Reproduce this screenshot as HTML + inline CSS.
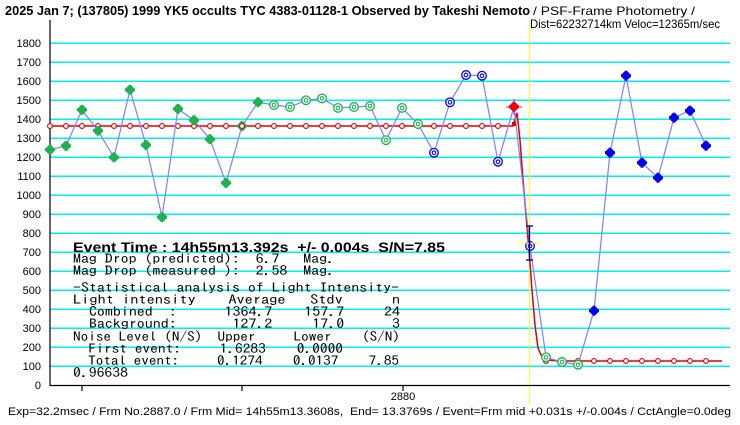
<!DOCTYPE html>
<html><head><meta charset="utf-8"><style>
html,body{margin:0;padding:0;background:#fff;}
svg{display:block;}
.t text{font-family:"IPAGothic","Liberation Mono",monospace;white-space:pre;}
</style></head><body>
<svg width="740" height="425" xmlns="http://www.w3.org/2000/svg">
<defs>
<g id="gf"><rect x="-5" y="-1.5" width="10" height="3" fill="#20b050"/><rect x="-1.5" y="-5" width="3" height="10" fill="#20b050"/><circle r="4.2" fill="#20b050"/></g>
<g id="bf"><rect x="-5" y="-1.5" width="10" height="3" fill="#0000f0"/><rect x="-1.5" y="-5" width="3" height="10" fill="#0000f0"/><circle r="4.2" fill="#0000f0"/></g>
<g id="gr"><circle r="4.3" fill="#fff" stroke="#20b050" stroke-width="1.3"/><circle r="1.8" fill="none" stroke="#20b050" stroke-width="1.1"/></g>
<g id="br"><circle r="4.3" fill="#fff" stroke="#0000f0" stroke-width="1.3"/><circle r="1.8" fill="none" stroke="#0000f0" stroke-width="1.1"/></g>
<circle id="rp" r="2.4" fill="#fff" stroke="#e00000" stroke-width="1.1"/>
</defs>
<rect width="740" height="425" fill="#fff"/>
<g stroke="#00f0f0" stroke-width="1.5">
<line x1="50" x2="730" y1="43.3" y2="43.3"/><line x1="50" x2="730" y1="62.3" y2="62.3"/><line x1="50" x2="730" y1="81.3" y2="81.3"/><line x1="50" x2="730" y1="100.3" y2="100.3"/><line x1="50" x2="730" y1="119.3" y2="119.3"/><line x1="50" x2="730" y1="138.3" y2="138.3"/><line x1="50" x2="730" y1="157.3" y2="157.3"/><line x1="50" x2="730" y1="176.3" y2="176.3"/><line x1="50" x2="730" y1="195.3" y2="195.3"/><line x1="50" x2="730" y1="214.3" y2="214.3"/><line x1="50" x2="730" y1="233.3" y2="233.3"/><line x1="50" x2="730" y1="252.3" y2="252.3"/><line x1="50" x2="730" y1="271.3" y2="271.3"/><line x1="50" x2="730" y1="290.3" y2="290.3"/><line x1="50" x2="730" y1="309.3" y2="309.3"/><line x1="50" x2="730" y1="328.3" y2="328.3"/><line x1="50" x2="730" y1="347.3" y2="347.3"/><line x1="50" x2="730" y1="366.3" y2="366.3"/>
</g>
<line x1="529.5" x2="529.5" y1="20" y2="405" stroke="#ffff40" stroke-width="1"/>
<g font-family="Liberation Sans, sans-serif" font-size="11" text-anchor="end" fill="#000">
<text x="41" y="47">1800</text><text x="41" y="66">1700</text><text x="41" y="85">1600</text><text x="41" y="104">1500</text><text x="41" y="123">1400</text><text x="41" y="142">1300</text><text x="41" y="161">1200</text><text x="41" y="180">1100</text><text x="41" y="199">1000</text><text x="41" y="218">900</text><text x="41" y="237">800</text><text x="41" y="256">700</text><text x="41" y="275">600</text><text x="41" y="294">500</text><text x="41" y="313">400</text><text x="41" y="332">300</text><text x="41" y="351">200</text><text x="41" y="370">100</text><text x="41" y="389">0</text>
</g>
<g stroke="#000" stroke-width="1.2">
<line x1="50" x2="50" y1="20" y2="386"/><line x1="50" x2="730" y1="385.5" y2="385.5"/>
<line x1="82" x2="82" y1="385" y2="391"/><line x1="242" x2="242" y1="385" y2="391"/><line x1="403" x2="403" y1="385" y2="391"/>
</g>
<text x="403" y="400" font-family="Liberation Sans, sans-serif" font-size="11" text-anchor="middle">2880</text>
<polyline fill="none" stroke="#e00000" stroke-width="1.5" points="50,126 513,126 517,113 520,140 523,180 526,215 529,250 532,290 535,325 538,348 542,357 546,360 560,361 722,361"/>
<g>
<use href="#rp" x="50" y="126"/><use href="#rp" x="66" y="126"/><use href="#rp" x="82" y="126"/><use href="#rp" x="98" y="126"/><use href="#rp" x="114" y="126"/><use href="#rp" x="130" y="126"/><use href="#rp" x="146" y="126"/><use href="#rp" x="162" y="126"/><use href="#rp" x="178" y="126"/><use href="#rp" x="194" y="126"/><use href="#rp" x="210" y="126"/><use href="#rp" x="226" y="126"/><use href="#rp" x="258" y="126"/><use href="#rp" x="274" y="126"/><use href="#rp" x="290" y="126"/><use href="#rp" x="306" y="126"/><use href="#rp" x="322" y="126"/><use href="#rp" x="338" y="126"/><use href="#rp" x="354" y="126"/><use href="#rp" x="370" y="126"/><use href="#rp" x="386" y="126"/><use href="#rp" x="402" y="126"/><use href="#rp" x="418" y="126"/><use href="#rp" x="434" y="126"/><use href="#rp" x="450" y="126"/><use href="#rp" x="466" y="126"/><use href="#rp" x="482" y="126"/><use href="#rp" x="498" y="126"/>
<use href="#rp" x="546" y="361"/><use href="#rp" x="562" y="361"/><use href="#rp" x="578" y="361"/><use href="#rp" x="594" y="361"/><use href="#rp" x="610" y="361"/><use href="#rp" x="626" y="361"/><use href="#rp" x="642" y="361"/><use href="#rp" x="658" y="361"/><use href="#rp" x="674" y="361"/><use href="#rp" x="690" y="361"/><use href="#rp" x="706" y="361"/>
</g>
<polyline fill="none" stroke="#8080ff" stroke-width="1.2" points="50,149.7 66,145.9 82,109.8 98,130.7 114,157.3 130,89.8 146,145 162,217.1 178,108.9 194,120.2 210,139.2 226,182.9 242,126 258,102.2 274,105 290,107 306,100.3 322,98.4 338,107.9 354,107 370,106 386,140.2 402,107.9 418,124 434,152.7 450,102.3 466,75 482,75.7 498,161.7 514,106.7 530,246 546,357.3 562,362 578,364.7 594,310.7 610,152.7 626,75.7 642,162.7 658,177.7 674,117.7 690,110.7 706,145.7"/>
<use href="#gf" x="50" y="149.7"/><use href="#gf" x="66" y="145.9"/><use href="#gf" x="82" y="109.8"/><use href="#gf" x="98" y="130.7"/><use href="#gf" x="114" y="157.3"/><use href="#gf" x="130" y="89.8"/><use href="#gf" x="146" y="145"/><use href="#gf" x="162" y="217.1"/><use href="#gf" x="178" y="108.9"/><use href="#gf" x="194" y="120.2"/><use href="#gf" x="210" y="139.2"/><use href="#gf" x="226" y="182.9"/><use href="#gf" x="242" y="126"/><use href="#rp" x="242" y="126"/><use href="#gf" x="258" y="102.2"/>
<use href="#gr" x="274" y="105"/><use href="#gr" x="290" y="107"/><use href="#gr" x="306" y="100.3"/><use href="#gr" x="322" y="98.4"/><use href="#gr" x="338" y="107.9"/><use href="#gr" x="354" y="107"/><use href="#gr" x="370" y="106"/><use href="#gr" x="386" y="140.2"/><use href="#gr" x="402" y="107.9"/><use href="#gr" x="418" y="124"/>
<use href="#br" x="434" y="152.7"/><use href="#br" x="450" y="102.3"/><use href="#br" x="466" y="75"/><use href="#br" x="482" y="75.7"/><use href="#br" x="498" y="161.7"/>
<line x1="506" x2="522" y1="107" y2="107" stroke="#ff00ff" stroke-width="1"/><line x1="514" x2="514" y1="99" y2="115" stroke="#ff00ff" stroke-width="1"/>
<g transform="translate(514,106.7)"><rect x="-5" y="-1.5" width="10" height="3" fill="#f00000"/><rect x="-1.5" y="-5" width="3" height="10" fill="#f00000"/><circle r="4.2" fill="#f00000"/></g>
<rect x="512" y="122" width="4" height="4" fill="#e00000"/>
<use href="#br" x="530" y="246"/>
<line x1="517" x2="541" y1="243" y2="243" stroke="#ffff40" stroke-width="1"/>
<g stroke="#000060" stroke-width="1.3"><line x1="529.5" x2="529.5" y1="226" y2="260"/><line x1="526" x2="533" y1="226" y2="226"/><line x1="526" x2="533" y1="260" y2="260"/></g>
<use href="#gr" x="546" y="357.3"/><use href="#gr" x="562" y="362"/><use href="#gr" x="578" y="364.7"/>
<use href="#bf" x="594" y="310.7"/><use href="#bf" x="610" y="152.7"/><use href="#bf" x="626" y="75.7"/><use href="#bf" x="642" y="162.7"/><use href="#bf" x="658" y="177.7"/><use href="#bf" x="674" y="117.7"/><use href="#bf" x="690" y="110.7"/><use href="#bf" x="706" y="145.7"/>
<text x="5" y="15" font-family="Liberation Sans, sans-serif" font-size="13" font-weight="bold" textLength="525" lengthAdjust="spacingAndGlyphs">2025 Jan 7; (137805) 1999 YK5 occults TYC 4383-01128-1 Observed by Takeshi Nemoto</text>
<text x="533" y="15" font-family="Liberation Sans, sans-serif" font-size="12" textLength="162" lengthAdjust="spacingAndGlyphs">/ PSF-Frame Photometry /</text>
<text x="530" y="28" font-family="Liberation Sans, sans-serif" font-size="12" textLength="190" lengthAdjust="spacingAndGlyphs">Dist=62232714km Veloc=12365m/sec</text>
<text x="73" y="252" font-family="Liberation Sans, sans-serif" font-size="14" font-weight="bold" textLength="372" lengthAdjust="spacingAndGlyphs" style="white-space:pre">Event Time : 14h55m13.392s  +/- 0.004s  S/N=7.85</text>
<g class="t" font-size="13">
<text x="73" y="263" textLength="262" lengthAdjust="spacingAndGlyphs">Mag Drop (predicted):  6.7   Mag.</text>
<text x="73" y="275" textLength="262" lengthAdjust="spacingAndGlyphs">Mag Drop (measured ):  2.58  Mag.</text>
<text x="73" y="292" textLength="326" lengthAdjust="spacingAndGlyphs">-Statistical analysis of Light Intensity-</text>
<text x="73" y="304" textLength="327" lengthAdjust="spacingAndGlyphs">Light intensity    Average   Stdv      n</text>
<text x="73" y="316" textLength="327" lengthAdjust="spacingAndGlyphs">  Combined  :      1364.7    157.7     24</text>
<text x="73" y="328" textLength="327" lengthAdjust="spacingAndGlyphs">  Background:       127.2     17.0      3</text>
<text x="73" y="341" textLength="327" lengthAdjust="spacingAndGlyphs">Noise Level (N/S)  Upper     Lower    (S/N)</text>
<text x="73" y="353" textLength="270" lengthAdjust="spacingAndGlyphs">  First event:     1.6283    0.0000</text>
<text x="73" y="365" textLength="326" lengthAdjust="spacingAndGlyphs">  Total event:     0.1274    0.0137    7.85</text>
<text x="73" y="377" textLength="55" lengthAdjust="spacingAndGlyphs">0.96638</text>
</g>
<text x="8" y="415" font-family="Liberation Sans, sans-serif" font-size="11" textLength="723" lengthAdjust="spacingAndGlyphs" style="white-space:pre">Exp=32.2msec / Frm No.2887.0 / Frm Mid= 14h55m13.3608s,  End= 13.3769s / Event=Frm mid +0.031s +/-0.004s / CctAngle=0.0deg</text>
</svg>
</body></html>
